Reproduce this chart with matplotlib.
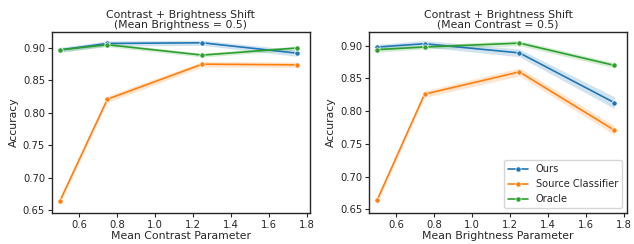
import matplotlib
matplotlib.use("Agg")
import matplotlib.pyplot as plt
import seaborn as sns
import numpy as np

sns.set_style("ticks")
plt.rcParams['font.family'] = ['DejaVu Sans']

x_vals = [0.5, 0.75, 1.25, 1.75]
labels = ["Ours", "Source Classifier", "Oracle"]
colors = ["#1f77b4", "#ff7f0e", "#2ca02c"]

# left panel: varying contrast
contrast_ours = [0.897, 0.907, 0.908, 0.892]
contrast_source = [0.664, 0.821, 0.875, 0.874]
contrast_oracle = [0.897, 0.905, 0.889, 0.900]
contrast_ci = [[0.004, 0.004, 0.004, 0.005],
               [0.005, 0.005, 0.004, 0.004],
               [0.003, 0.003, 0.003, 0.003]]

# right panel: varying brightness
bright_ours = [0.898, 0.903, 0.889, 0.813]
bright_source = [0.664, 0.826, 0.860, 0.771]
bright_oracle = [0.894, 0.898, 0.904, 0.870]
bright_ci = [[0.004, 0.005, 0.006, 0.009],
             [0.005, 0.005, 0.006, 0.007],
             [0.004, 0.003, 0.004, 0.004]]

fig, axes = plt.subplots(1, 2, figsize=(6.34, 2.44), dpi=100)

panels = [
    (axes[0], [contrast_ours, contrast_source, contrast_oracle], contrast_ci,
     "Contrast + Brightness Shift\n(Mean Brightness = 0.5)", "Mean Contrast Parameter"),
    (axes[1], [bright_ours, bright_source, bright_oracle], bright_ci,
     "Contrast + Brightness Shift\n(Mean Contrast = 0.5)", "Mean Brightness Parameter"),
]

for ax, series, ci, title, xlabel in panels:
    for vals, err, lab, c in zip(series, ci, labels, colors):
        vals = np.array(vals)
        err = np.array(err)
        ax.fill_between(x_vals, vals - err, vals + err, color=c, alpha=0.2, linewidth=0)
        ax.plot(x_vals, vals, color=c, marker="o", markersize=3.8, linewidth=1.2,
                markeredgecolor="white", markeredgewidth=0.5, label=lab)
    ax.set_title(title, fontsize=7.8, linespacing=1.0, pad=3)
    ax.set_xlabel(xlabel, fontsize=7.8, labelpad=1)
    ax.set_ylabel("Accuracy", fontsize=7.8, labelpad=3)
    ax.tick_params(labelsize=7.2, length=3, pad=2)
    ax.set_xticks([0.6, 0.8, 1.0, 1.2, 1.4, 1.6, 1.8])
    ax.set_yticks([0.65, 0.70, 0.75, 0.80, 0.85, 0.90])
    ax.set_xlim(0.458, 1.817)
    for s in ax.spines.values():
        s.set_visible(True)
        s.set_linewidth(1.0)

axes[0].set_ylim(0.6454, 0.9247)
axes[1].set_ylim(0.6444, 0.921)
axes[1].legend(loc="lower right", fontsize=7.1, handlelength=2.0)

fig.subplots_adjust(left=0.082, right=0.989, top=0.869, bottom=0.127, wspace=0.23)
fig.savefig("out.png", dpi=100)
